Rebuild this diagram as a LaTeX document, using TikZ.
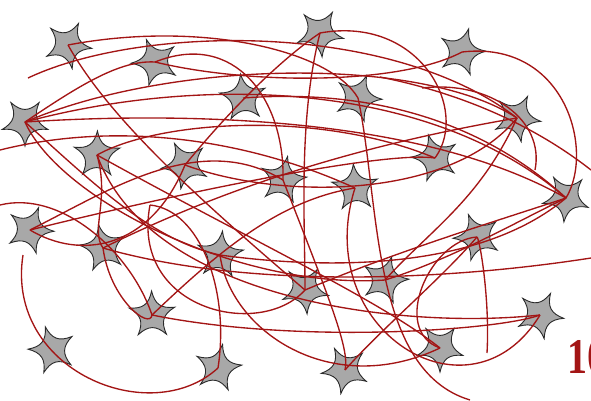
\documentclass[tikz,border=0pt]{standalone}
\usepackage{tikz}
\usepackage{fontspec}
\newfontfamily\labelfont{Liberation Serif}
\definecolor{axonred}{HTML}{A31515}
\definecolor{somagray}{HTML}{A8A8A8}
\definecolor{somaline}{HTML}{2A2A2A}
\tikzset{
  axon/.style={draw=axonred, line width=1.35pt},
  pics/neuron/.style={code={
    \filldraw[fill=somagray, draw=somaline, line width=0.9pt]
      (90:24) .. controls (106:11) and (146:11) .. (162:24)
      .. controls (178:11) and (218:11) .. (234:24)
      .. controls (250:11) and (290:11) .. (306:24)
      .. controls (322:11) and (362:11) .. (378:24)
      .. controls (394:11) and (434:11) .. (450:24) -- cycle;
  }},
  numlabel/.style={text=axonred, font=\labelfont\fontsize{50}{50}\selectfont\bfseries, inner sep=0pt, anchor=base west, xscale=0.8}
}
\begin{document}
\begin{tikzpicture}[x=1pt, y=-1pt]
\useasboundingbox (0,0) rectangle (591,400);
% soma positions
\coordinate (n1) at (68,45);
\coordinate (n2) at (155,62);
\coordinate (n3) at (320,33);
\coordinate (n4) at (462,52);
\coordinate (n5) at (243,98);
\coordinate (n6) at (358,98);
\coordinate (n7) at (25,122);
\coordinate (n8) at (97,155);
\coordinate (n9) at (185,165);
\coordinate (n10) at (283,180);
\coordinate (n11) at (435,158);
\coordinate (n12) at (517,118);
\coordinate (n13) at (355,188);
\coordinate (n14) at (566,198);
\coordinate (n15) at (30,230);
\coordinate (n16) at (103,248);
\coordinate (n17) at (220,255);
\coordinate (n18) at (477,237);
\coordinate (n19) at (305,290);
\coordinate (n20) at (385,280);
\coordinate (n21) at (152,315);
\coordinate (n22) at (540,315);
\coordinate (n23) at (52,350);
\coordinate (n24) at (218,368);
\coordinate (n25) at (440,348);
\coordinate (n26) at (345,370);
% free ends
\coordinate (fa) at (28,78);
\coordinate (fb) at (422,88);
\coordinate (fc) at (535,170);
\coordinate (fd) at (150,205);
\coordinate (fe) at (23,255);
\coordinate (ff) at (470,400);
\coordinate (fg) at (487,353);
\coordinate (fh) at (591,258);
\coordinate (fi) at (591,170);
\coordinate (fj) at (380,77);
\coordinate (fk) at (0,205);
\coordinate (fl) at (0,150);
% somata
\pic[rotate=10] at (n1) {neuron};
\pic[rotate=-15] at (n2) {neuron};
\pic[rotate=5] at (n3) {neuron};
\pic[rotate=20] at (n4) {neuron};
\pic[rotate=-30] at (n5) {neuron};
\pic[rotate=15] at (n6) {neuron};
\pic[rotate=0] at (n7) {neuron};
\pic[rotate=35] at (n8) {neuron};
\pic[rotate=-10] at (n9) {neuron};
\pic[rotate=25] at (n10) {neuron};
\pic[rotate=-20] at (n11) {neuron};
\pic[rotate=10] at (n12) {neuron};
\pic[rotate=40] at (n13) {neuron};
\pic[rotate=-5] at (n14) {neuron};
\pic[rotate=15] at (n15) {neuron};
\pic[rotate=-25] at (n16) {neuron};
\pic[rotate=30] at (n17) {neuron};
\pic[rotate=-15] at (n18) {neuron};
\pic[rotate=5] at (n19) {neuron};
\pic[rotate=20] at (n20) {neuron};
\pic[rotate=-35] at (n21) {neuron};
\pic[rotate=10] at (n22) {neuron};
\pic[rotate=-20] at (n23) {neuron};
\pic[rotate=25] at (n24) {neuron};
\pic[rotate=0] at (n25) {neuron};
\pic[rotate=-10] at (n26) {neuron};
% axons
\draw[axon] (fa) .. controls (140,25) and (390,20) .. (n12);
\draw[axon] (n7) .. controls (80,85) and (120,60) .. (n2);
\draw[axon] (n7) .. controls (170,60) and (420,55) .. (n12);
\draw[axon] (n7) .. controls (200,75) and (430,80) .. (n14);
\draw[axon] (n7) .. controls (180,112) and (420,115) .. (n14);
\draw[axon] (n1) .. controls (200,20) and (330,50) .. (n6);
\draw[axon] (n2) .. controls (250,85) and (400,85) .. (n4);
\draw[axon] (n3) .. controls (298,120) and (305,220) .. (n19);
\draw[axon] (n3) .. controls (420,15) and (470,110) .. (n11);
\draw[axon] (n4) .. controls (565,40) and (595,150) .. (n14);
\draw[axon] (fb) .. controls (490,80) and (545,120) .. (fc);
\draw[axon] (n2) .. controls (235,30) and (285,100) .. (n10);
\draw[axon] (n7) .. controls (90,180) and (150,240) .. (n17);
\draw[axon] (n1) .. controls (110,120) and (200,200) .. (n19);
\draw[axon] (n7) .. controls (60,200) and (240,290) .. (n20);
\draw[axon] (n15) .. controls (110,190) and (200,130) .. (n10);
\draw[axon] (n8) .. controls (160,120) and (320,110) .. (n11);
\draw[axon] (n8) .. controls (110,200) and (90,230) .. (n16);
\draw[axon] (fd) .. controls (130,310) and (260,340) .. (n19);
\draw[axon] (n16) .. controls (110,300) and (150,330) .. (n21);
\draw[axon] (n21) .. controls (220,250) and (280,200) .. (n13);
\draw[axon] (n24) .. controls (230,290) and (200,210) .. (fd);
\draw[axon] (fe) .. controls (5,370) and (150,430) .. (n24);
\draw[axon] (n19) .. controls (400,250) and (500,220) .. (n14);
\draw[axon] (n6) .. controls (380,200) and (370,370) .. (ff);
\draw[axon] (n18) .. controls (430,240) and (390,330) .. (n25);
\draw[axon] (fg) .. controls (490,300) and (480,240) .. (n18);
\draw[axon] (n13) .. controls (310,330) and (470,430) .. (n22);
\draw[axon] (n16) .. controls (250,290) and (450,280) .. (fh);
\draw[axon] (n8) .. controls (150,300) and (400,330) .. (n22);
\draw[axon] (n17) .. controls (330,270) and (480,270) .. (n14);
\draw[axon] (n21) .. controls (300,345) and (500,330) .. (n22);
\draw[axon] (n9) .. controls (280,200) and (450,200) .. (n12);
\draw[axon] (n5) .. controls (350,90) and (470,110) .. (n14);
\draw[axon] (n15) .. controls (150,200) and (380,150) .. (n11);
\draw[axon] (n20) .. controls (430,230) and (480,200) .. (n12);
\draw[axon] (n20) .. controls (450,260) and (520,220) .. (n14);
\draw[axon] (fj) .. controls (470,95) and (540,130) .. (fi);
\draw[axon] (fk) .. controls (60,190) and (130,250) .. (n21);
\draw[axon] (n10) .. controls (330,300) and (350,350) .. (n26);
\draw[axon] (n17) .. controls (230,330) and (330,400) .. (n25);
\draw[axon] (n9) .. controls (150,250) and (80,260) .. (n15);
\draw[axon] (n8) .. controls (250,240) and (380,300) .. (n25);
\draw[axon] (fl) .. controls (120,120) and (250,140) .. (n13);
\draw[axon] (n16) .. controls (200,200) and (330,150) .. (n12);
\draw[axon] (n9) .. controls (230,110) and (280,60) .. (n3);
\draw[axon] (n26) .. controls (380,330) and (440,280) .. (n18);
% label
\node[numlabel] (lbl) at (567,373) {10};
\end{tikzpicture}
\end{document}
